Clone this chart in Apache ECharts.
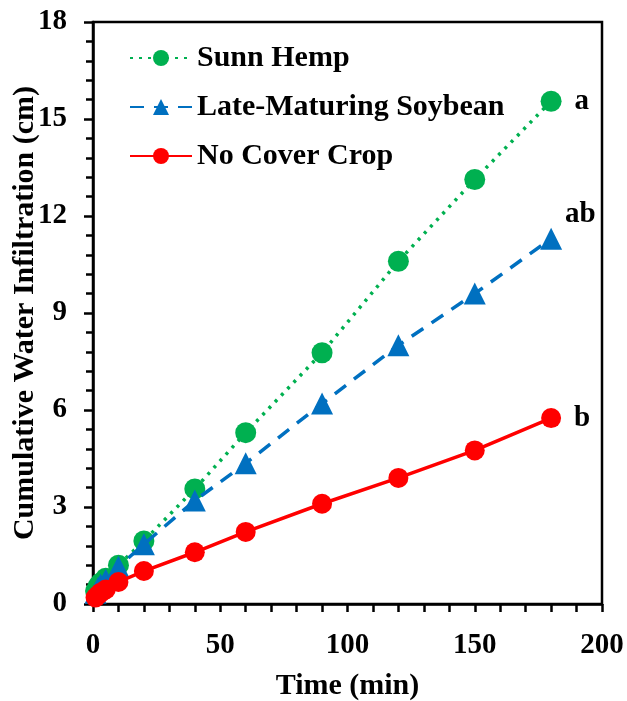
<!DOCTYPE html>
<html><head><meta charset="utf-8">
<script src="https://cdn.jsdelivr.net/npm/echarts@6/dist/echarts.min.js"></script>
<style>html,body{margin:0;padding:0;background:#fff}#c{width:627px;height:701px}</style>
</head><body><div id="c"></div>
<script>
const times = [1, 2, 3, 5, 10, 20, 40, 60, 90, 120, 150, 180];
const sunnHemp = [0.4, 0.55, 0.65, 0.8, 1.2, 1.95, 3.56, 5.3, 7.77, 10.6, 13.13, 15.55];
const soybean = [0.35, 0.5, 0.6, 0.75, 1.15, 1.85, 3.2, 4.35, 6.2, 8.0, 9.6, 11.3];
const noCover = [0.2, 0.28, 0.35, 0.45, 0.68, 1.02, 1.6, 2.23, 3.1, 3.9, 4.75, 5.75];
const seriesNames = ['Sunn Hemp', 'Late-Maturing Soybean', 'No Cover Crop'];
const endLetters = ['a', 'ab', 'b'];
const xTicks = [0, 50, 100, 150, 200];
const yTicks = [0, 3, 6, 9, 12, 15, 18];

const font = 'Liberation Serif, Times New Roman, serif';
function mk(vals, letter, off) {
  return vals.map((v, i) => {
    const d = {value: [times[i], v]};
    if (i === vals.length - 1) {
      d.label = {show: true, formatter: letter, position: 'right', offset: off,
        fontFamily: font, fontWeight: 'bold', fontSize: 29, color: '#000'};
    }
    return d;
  });
}
const chart = echarts.init(document.getElementById('c'), null, {renderer: 'canvas'});
chart.setOption({
  animation: false,
  grid: {left: 93, right: 25, top: 22, bottom: 97, show: true, borderColor: '#000', borderWidth: 2.5,
    containLabel: false, outerBoundsMode: 'none'},
  legend: {
    orient: 'vertical', left: 124, top: 38, itemGap: 19, itemWidth: 62, itemHeight: 20,
    data: seriesNames,
    textStyle: {fontFamily: font, fontWeight: 'bold', fontSize: 30, color: '#000'}
  },
  xAxis: {
    type: 'value', min: 0, max: 200, interval: 50,
    name: 'Time (min)', nameLocation: 'middle', nameGap: 67, nameMoveOverlap: false,
    nameTextStyle: {fontFamily: font, fontWeight: 'bold', fontSize: 30, color: '#000'},
    axisLine: {show: true, lineStyle: {color: '#000', width: 2.5}},
    axisTick: {show: true, inside: false, length: 8, lineStyle: {color: '#000', width: 2.5}},
    minorTick: {show: true, splitNumber: 5, length: 8, lineStyle: {color: '#000', width: 2.5}},
    axisLabel: {fontFamily: font, fontWeight: 'bold', fontSize: 29, color: '#000', margin: 27,
      formatter: v => xTicks.includes(v) ? String(v) : ''},
    splitLine: {show: false}
  },
  yAxis: {
    type: 'value', min: 0, max: 18, interval: 3,
    name: 'Cumulative Water Infiltration (cm)', nameLocation: 'middle', nameGap: 53, nameMoveOverlap: false,
    nameTextStyle: {fontFamily: font, fontWeight: 'bold', fontSize: 30, color: '#000'},
    axisLine: {show: true, lineStyle: {color: '#000', width: 2.5}},
    axisTick: {show: true, inside: false, length: 9, lineStyle: {color: '#000', width: 2.5}},
    minorTick: {show: true, splitNumber: 5, length: 7, lineStyle: {color: '#000', width: 2.5}},
    axisLabel: {fontFamily: font, fontWeight: 'bold', fontSize: 29, color: '#000', margin: 26,
      formatter: v => yTicks.includes(v) ? String(v) : ''},
    splitLine: {show: false}
  },
  series: [
    {name: seriesNames[0], type: 'line', data: mk(sunnHemp, endLetters[0], [8, 0]),
      symbol: 'circle', symbolSize: 21, color: '#00B050',
      lineStyle: {type: [3, 6], width: 3.5, color: '#00B050'}, z: 2},
    {name: seriesNames[1], type: 'line', data: mk(soybean, endLetters[1], [-2, -24]),
      symbol: 'triangle', symbolSize: 22, color: '#0070C0',
      lineStyle: {type: [14, 10], width: 3.5, color: '#0070C0'}, z: 3},
    {name: seriesNames[2], type: 'line', data: mk(noCover, endLetters[2], [8, 0]),
      symbol: 'circle', symbolSize: 20, color: '#FF0000',
      lineStyle: {type: 'solid', width: 3.5, color: '#FF0000'}, z: 4}
  ]
});
</script></body></html>
